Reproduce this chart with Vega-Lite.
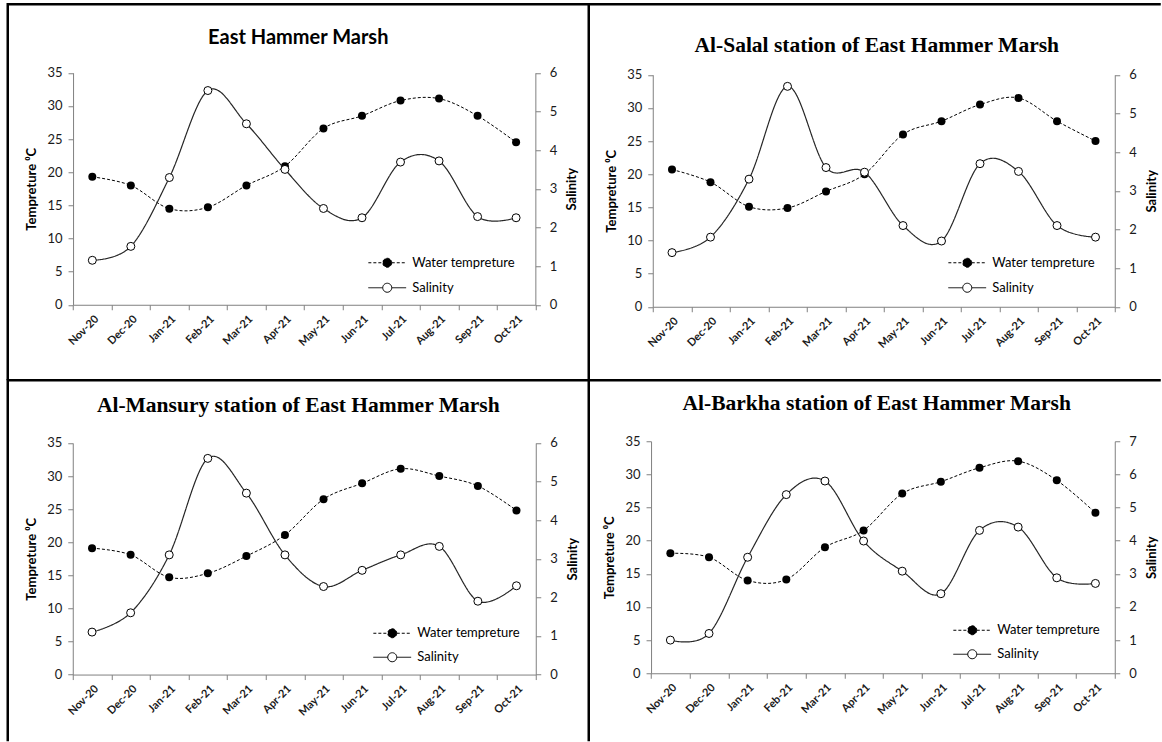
{
  "$schema": "https://vega.github.io/schema/vega-lite/v6.json",
  "background": "white",
  "padding": {"left": 5.75, "top": 2.25, "right": 0, "bottom": 0},
  "columns": 2,
  "spacing": 0,
  "bounds": "flush",
  "resolve": {"scale": {"strokeDash": "independent"}, "legend": {"strokeDash": "independent"}},
  "config": {
    "font": "Lato",
    "view": {"stroke": null},
    "axis": {"grid": false, "domainColor": "#808080", "tickColor": "#808080", "labelColor": "#1a1a1a", "titleColor": "#000000", "domainWidth": 1, "tickWidth": 1},
    "line": {"interpolate": "cardinal"}
  },
  "concat": [
    {
      "width": 581, "height": 376,
      "view": {"stroke": "black", "strokeWidth": 2.5, "strokeDash": [581, 957, 376]},
      "title": {"text": "East Hammer Marsh", "font": "Lato", "fontSize": 20, "fontWeight": "bold", "color": "black", "anchor": "middle", "frame": "group", "baseline": "alphabetic", "offset": -60, "dx": 0},
      "data": {"values": [
        {"month": "Nov-20", "temp": 19.3, "salinity": 1.15},
        {"month": "Dec-20", "temp": 18.0, "salinity": 1.51},
        {"month": "Jan-21", "temp": 14.5, "salinity": 3.29},
        {"month": "Feb-21", "temp": 14.7, "salinity": 5.54},
        {"month": "Mar-21", "temp": 18.0, "salinity": 4.68},
        {"month": "Apr-21", "temp": 20.9, "salinity": 3.5},
        {"month": "May-21", "temp": 26.6, "salinity": 2.49},
        {"month": "Jun-21", "temp": 28.5, "salinity": 2.25},
        {"month": "Jul-21", "temp": 30.8, "salinity": 3.69},
        {"month": "Aug-21", "temp": 31.1, "salinity": 3.72},
        {"month": "Sep-21", "temp": 28.5, "salinity": 2.28},
        {"month": "Oct-21", "temp": 24.5, "salinity": 2.25}
      ]},
      "encoding": {
        "x": {"field": "month", "type": "ordinal", "sort": null,
          "scale": {"type": "band", "range": [65.3, 527.6], "paddingInner": 0, "paddingOuter": 0},
          "axis": {"title": null, "offset": -75.5, "labelAngle": -45, "labelFontSize": 11, "labelFontWeight": "bold", "tickBand": "extent", "tickSize": 5, "labelPadding": 3}}
      },
      "layer": [
        {
          "encoding": {"y": {"field": "temp", "type": "quantitative",
            "scale": {"domain": [0, 35], "range": [300.5, 68.5], "nice": false},
            "axis": {"orient": "left", "offset": -65.3, "values": [0, 5, 10, 15, 20, 25, 30, 35], "labelFontSize": 13, "tickSize": 5, "labelPadding": 6, "title": "Tempreture ⁰C", "titleFontSize": 13, "titleFontWeight": "bold", "titlePadding": 8}}},
          "layer": [
            {"mark": {"type": "line", "color": "black", "strokeWidth": 1},
             "encoding": {"strokeDash": {"datum": "Water tempreture", "type": "nominal",
               "scale": {"domain": ["Water tempreture", "Salinity"], "range": [[3, 2], [1, 0]]},
               "legend": {"title": null, "orient": "none", "legendX": 373, "legendY": 252, "padding": 0, "rowPadding": 11,
                 "symbolType": "M-4.2,0L-1,0M1,0L4.2,0M1,0A1,1,0,1,1,-1,0A1,1,0,1,1,1,0Z", "symbolSize": 81,
                 "symbolStrokeColor": "black", "symbolStrokeWidth": 1, "labelFontSize": 13, "labelColor": "black", "labelOffset": 18.5,
                 "encode": {"symbols": {"update": {"fill": [{"test": "datum.value === 'Water tempreture'", "value": "black"}, {"value": "white"}], "opacity": {"value": 1}, "stroke": {"value": "black"}}}}}}}},
            {"mark": {"type": "point", "shape": "circle", "filled": true, "color": "black", "size": 64, "opacity": 1}}
          ]
        },
        {
          "encoding": {"y": {"field": "salinity", "type": "quantitative",
            "scale": {"domain": [0, 6], "range": [300.5, 68.5], "nice": false},
            "axis": {"orient": "right", "offset": -53.4, "values": [0, 1, 2, 3, 4, 5, 6], "labelFontSize": 13, "tickSize": 5, "labelPadding": 9, "title": "Salinity", "titleAngle": 270, "titleBaseline": "top", "titleFontSize": 13, "titleFontWeight": "bold", "titlePadding": 9}}},
          "layer": [
            {"mark": {"type": "line", "color": "#262626", "strokeWidth": 1.2},
             "encoding": {"strokeDash": {"datum": "Salinity", "type": "nominal"}}},
            {"mark": {"type": "point", "shape": "circle", "filled": true, "fill": "white", "stroke": "black", "strokeWidth": 1, "size": 64, "opacity": 1}}
          ]
        }
      ],
      "resolve": {"scale": {"y": "independent"}}
    },
    {
      "width": 572, "height": 376,
      "view": {"stroke": "black", "strokeWidth": 2.5, "strokeDash": [572, 948, 376]},
      "title": {"text": "Al-Salal station of East Hammer Marsh", "font": "Liberation Serif", "fontSize": 21.5, "fontWeight": "bold", "color": "black", "anchor": "middle", "frame": "group", "baseline": "alphabetic", "offset": -69, "dx": 2},
      "data": {"values": [
        {"month": "Nov-20", "temp": 20.7, "salinity": 1.4},
        {"month": "Dec-20", "temp": 18.8, "salinity": 1.8},
        {"month": "Jan-21", "temp": 15.1, "salinity": 3.3},
        {"month": "Feb-21", "temp": 14.9, "salinity": 5.7},
        {"month": "Mar-21", "temp": 17.4, "salinity": 3.6},
        {"month": "Apr-21", "temp": 20.0, "salinity": 3.48},
        {"month": "May-21", "temp": 26.0, "salinity": 2.1},
        {"month": "Jun-21", "temp": 28.0, "salinity": 1.7},
        {"month": "Jul-21", "temp": 30.5, "salinity": 3.7},
        {"month": "Aug-21", "temp": 31.5, "salinity": 3.5},
        {"month": "Sep-21", "temp": 28.0, "salinity": 2.1},
        {"month": "Oct-21", "temp": 25.0, "salinity": 1.8}
      ]},
      "encoding": {
        "x": {"field": "month", "type": "ordinal", "sort": null,
          "scale": {"type": "band", "range": [64, 526], "paddingInner": 0, "paddingOuter": 0},
          "axis": {"title": null, "offset": -73.5, "labelAngle": -45, "labelFontSize": 11, "labelFontWeight": "bold", "tickBand": "extent", "tickSize": 5, "labelPadding": 3}}
      },
      "layer": [
        {
          "encoding": {"y": {"field": "temp", "type": "quantitative",
            "scale": {"domain": [0, 35], "range": [302.5, 70.5], "nice": false},
            "axis": {"orient": "left", "offset": -64, "values": [0, 5, 10, 15, 20, 25, 30, 35], "labelFontSize": 13, "tickSize": 5, "labelPadding": 6, "title": "Tempreture ⁰C", "titleFontSize": 13, "titleFontWeight": "bold", "titlePadding": 8}}},
          "layer": [
            {"mark": {"type": "line", "color": "black", "strokeWidth": 1},
             "encoding": {"strokeDash": {"datum": "Water tempreture", "type": "nominal",
               "scale": {"domain": ["Water tempreture", "Salinity"], "range": [[3, 2], [1, 0]]},
               "legend": {"title": null, "orient": "none", "legendX": 372, "legendY": 252, "padding": 0, "rowPadding": 11,
                 "symbolType": "M-4.2,0L-1,0M1,0L4.2,0M1,0A1,1,0,1,1,-1,0A1,1,0,1,1,1,0Z", "symbolSize": 81,
                 "symbolStrokeColor": "black", "symbolStrokeWidth": 1, "labelFontSize": 13, "labelColor": "black", "labelOffset": 18.5,
                 "encode": {"symbols": {"update": {"fill": [{"test": "datum.value === 'Water tempreture'", "value": "black"}, {"value": "white"}], "opacity": {"value": 1}, "stroke": {"value": "black"}}}}}}}},
            {"mark": {"type": "point", "shape": "circle", "filled": true, "color": "black", "size": 64, "opacity": 1}}
          ]
        },
        {
          "encoding": {"y": {"field": "salinity", "type": "quantitative",
            "scale": {"domain": [0, 6], "range": [302.5, 70.5], "nice": false},
            "axis": {"orient": "right", "offset": -46, "values": [0, 1, 2, 3, 4, 5, 6], "labelFontSize": 13, "tickSize": 5, "labelPadding": 9, "title": "Salinity", "titleAngle": 270, "titleBaseline": "top", "titleFontSize": 13, "titleFontWeight": "bold", "titlePadding": 9}}},
          "layer": [
            {"mark": {"type": "line", "color": "#262626", "strokeWidth": 1.2},
             "encoding": {"strokeDash": {"datum": "Salinity", "type": "nominal"}}},
            {"mark": {"type": "point", "shape": "circle", "filled": true, "fill": "white", "stroke": "black", "strokeWidth": 1, "size": 64, "opacity": 1}}
          ]
        }
      ],
      "resolve": {"scale": {"y": "independent"}}
    },
    {
      "width": 581, "height": 361,
      "view": {"stroke": "black", "strokeWidth": 2.5, "strokeDash": [581, 942, 361]},
      "title": {"text": "Al-Mansury station of East Hammer Marsh", "font": "Liberation Serif", "fontSize": 21.5, "fontWeight": "bold", "color": "black", "anchor": "middle", "frame": "group", "baseline": "alphabetic", "offset": -53, "dx": 0},
      "data": {"values": [
        {"month": "Nov-20", "temp": 19.1, "salinity": 1.1},
        {"month": "Dec-20", "temp": 18.1, "salinity": 1.6},
        {"month": "Jan-21", "temp": 14.7, "salinity": 3.1},
        {"month": "Feb-21", "temp": 15.3, "salinity": 5.6},
        {"month": "Mar-21", "temp": 17.9, "salinity": 4.7},
        {"month": "Apr-21", "temp": 21.1, "salinity": 3.1},
        {"month": "May-21", "temp": 26.5, "salinity": 2.28},
        {"month": "Jun-21", "temp": 28.9, "salinity": 2.7},
        {"month": "Jul-21", "temp": 31.1, "salinity": 3.1},
        {"month": "Aug-21", "temp": 30.0, "salinity": 3.32},
        {"month": "Sep-21", "temp": 28.5, "salinity": 1.9},
        {"month": "Oct-21", "temp": 24.8, "salinity": 2.3}
      ]},
      "encoding": {
        "x": {"field": "month", "type": "ordinal", "sort": null,
          "scale": {"type": "band", "range": [65, 528], "paddingInner": 0, "paddingOuter": 0},
          "axis": {"title": null, "offset": -66.7, "labelAngle": -45, "labelFontSize": 11, "labelFontWeight": "bold", "tickBand": "extent", "tickSize": 5, "labelPadding": 3}}
      },
      "layer": [
        {
          "encoding": {"y": {"field": "temp", "type": "quantitative",
            "scale": {"domain": [0, 35], "range": [294.3, 62.7], "nice": false},
            "axis": {"orient": "left", "offset": -65, "values": [0, 5, 10, 15, 20, 25, 30, 35], "labelFontSize": 13, "tickSize": 5, "labelPadding": 6, "title": "Tempreture ⁰C", "titleFontSize": 13, "titleFontWeight": "bold", "titlePadding": 8}}},
          "layer": [
            {"mark": {"type": "line", "color": "black", "strokeWidth": 1},
             "encoding": {"strokeDash": {"datum": "Water tempreture", "type": "nominal",
               "scale": {"domain": ["Water tempreture", "Salinity"], "range": [[3, 2], [1, 0]]},
               "legend": {"title": null, "orient": "none", "legendX": 378, "legendY": 246.5, "padding": 0, "rowPadding": 10,
                 "symbolType": "M-4.2,0L-1,0M1,0L4.2,0M1,0A1,1,0,1,1,-1,0A1,1,0,1,1,1,0Z", "symbolSize": 81,
                 "symbolStrokeColor": "black", "symbolStrokeWidth": 1, "labelFontSize": 13, "labelColor": "black", "labelOffset": 18.5,
                 "encode": {"symbols": {"update": {"fill": [{"test": "datum.value === 'Water tempreture'", "value": "black"}, {"value": "white"}], "opacity": {"value": 1}, "stroke": {"value": "black"}}}}}}}},
            {"mark": {"type": "point", "shape": "circle", "filled": true, "color": "black", "size": 64, "opacity": 1}}
          ]
        },
        {
          "encoding": {"y": {"field": "salinity", "type": "quantitative",
            "scale": {"domain": [0, 6], "range": [294.3, 62.7], "nice": false},
            "axis": {"orient": "right", "offset": -53, "values": [0, 1, 2, 3, 4, 5, 6], "labelFontSize": 13, "tickSize": 5, "labelPadding": 9, "title": "Salinity", "titleAngle": 270, "titleBaseline": "top", "titleFontSize": 13, "titleFontWeight": "bold", "titlePadding": 9}}},
          "layer": [
            {"mark": {"type": "line", "color": "#262626", "strokeWidth": 1.2},
             "encoding": {"strokeDash": {"datum": "Salinity", "type": "nominal"}}},
            {"mark": {"type": "point", "shape": "circle", "filled": true, "fill": "white", "stroke": "black", "strokeWidth": 1, "size": 64, "opacity": 1}}
          ]
        }
      ],
      "resolve": {"scale": {"y": "independent"}}
    },
    {
      "width": 572, "height": 361,
      "view": {"stroke": "black", "strokeWidth": 2.5, "strokeDash": [572, 933, 361]},
      "title": {"text": "Al-Barkha station of East Hammer Marsh", "font": "Liberation Serif", "fontSize": 21.5, "fontWeight": "bold", "color": "black", "anchor": "middle", "frame": "group", "baseline": "alphabetic", "offset": -51, "dx": 2},
      "data": {"values": [
        {"month": "Nov-20", "temp": 18.1, "salinity": 1.0},
        {"month": "Dec-20", "temp": 17.5, "salinity": 1.2},
        {"month": "Jan-21", "temp": 14.0, "salinity": 3.5},
        {"month": "Feb-21", "temp": 14.15, "salinity": 5.39},
        {"month": "Mar-21", "temp": 19.0, "salinity": 5.8},
        {"month": "Apr-21", "temp": 21.55, "salinity": 3.99},
        {"month": "May-21", "temp": 27.1, "salinity": 3.08},
        {"month": "Jun-21", "temp": 28.9, "salinity": 2.4},
        {"month": "Jul-21", "temp": 31.0, "salinity": 4.31},
        {"month": "Aug-21", "temp": 32.0, "salinity": 4.41},
        {"month": "Sep-21", "temp": 29.1, "salinity": 2.88},
        {"month": "Oct-21", "temp": 24.2, "salinity": 2.71}
      ]},
      "encoding": {
        "x": {"field": "month", "type": "ordinal", "sort": null,
          "scale": {"type": "band", "range": [62.3, 526], "paddingInner": 0, "paddingOuter": 0},
          "axis": {"title": null, "offset": -68, "labelAngle": -45, "labelFontSize": 11, "labelFontWeight": "bold", "tickBand": "extent", "tickSize": 5, "labelPadding": 3}}
      },
      "layer": [
        {
          "encoding": {"y": {"field": "temp", "type": "quantitative",
            "scale": {"domain": [0, 35], "range": [293, 61], "nice": false},
            "axis": {"orient": "left", "offset": -62.3, "values": [0, 5, 10, 15, 20, 25, 30, 35], "labelFontSize": 13, "tickSize": 5, "labelPadding": 6, "title": "Tempreture ⁰C", "titleFontSize": 13, "titleFontWeight": "bold", "titlePadding": 8}}},
          "layer": [
            {"mark": {"type": "line", "color": "black", "strokeWidth": 1},
             "encoding": {"strokeDash": {"datum": "Water tempreture", "type": "nominal",
               "scale": {"domain": ["Water tempreture", "Salinity"], "range": [[3, 2], [1, 0]]},
               "legend": {"title": null, "orient": "none", "legendX": 377, "legendY": 243.5, "padding": 0, "rowPadding": 10,
                 "symbolType": "M-4.2,0L-1,0M1,0L4.2,0M1,0A1,1,0,1,1,-1,0A1,1,0,1,1,1,0Z", "symbolSize": 81,
                 "symbolStrokeColor": "black", "symbolStrokeWidth": 1, "labelFontSize": 13, "labelColor": "black", "labelOffset": 18.5,
                 "encode": {"symbols": {"update": {"fill": [{"test": "datum.value === 'Water tempreture'", "value": "black"}, {"value": "white"}], "opacity": {"value": 1}, "stroke": {"value": "black"}}}}}}}},
            {"mark": {"type": "point", "shape": "circle", "filled": true, "color": "black", "size": 64, "opacity": 1}}
          ]
        },
        {
          "encoding": {"y": {"field": "salinity", "type": "quantitative",
            "scale": {"domain": [0, 7], "range": [293, 61], "nice": false},
            "axis": {"orient": "right", "offset": -46, "values": [0, 1, 2, 3, 4, 5, 6, 7], "labelFontSize": 13, "tickSize": 5, "labelPadding": 9, "title": "Salinity", "titleAngle": 270, "titleBaseline": "top", "titleFontSize": 13, "titleFontWeight": "bold", "titlePadding": 9}}},
          "layer": [
            {"mark": {"type": "line", "color": "#262626", "strokeWidth": 1.2},
             "encoding": {"strokeDash": {"datum": "Salinity", "type": "nominal"}}},
            {"mark": {"type": "point", "shape": "circle", "filled": true, "fill": "white", "stroke": "black", "strokeWidth": 1, "size": 64, "opacity": 1}}
          ]
        }
      ],
      "resolve": {"scale": {"y": "independent"}}
    }
  ]
}
